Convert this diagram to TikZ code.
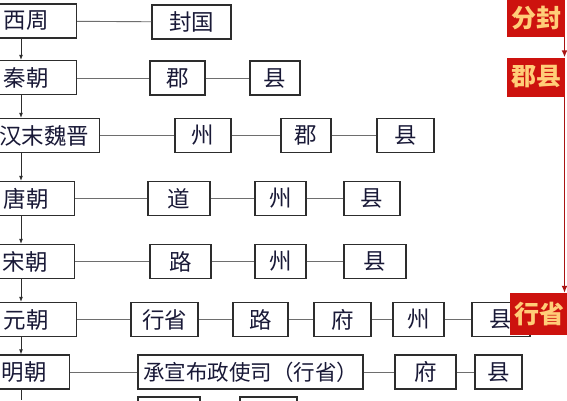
\documentclass[tikz,border=0pt]{standalone}
\usepackage{fontspec}
\setmainfont{Noto Sans CJK SC}
\usetikzlibrary{arrows.meta}
\definecolor{ink}{RGB}{25,25,55}
\definecolor{boxline}{RGB}{45,45,45}
\definecolor{linkgray}{RGB}{110,110,110}
\definecolor{redbox}{RGB}{205,18,14}
\definecolor{redline}{RGB}{170,20,20}
\definecolor{goldtext}{RGB}{255,205,120}
\tikzset{
  era/.style={draw=boxline,line width=1.3pt,anchor=east,minimum height=34,inner sep=0pt,
    text=ink,font=\fontsize{22.5}{24}\selectfont},
  unit/.style={draw=boxline,line width=1.3pt,fill=white,minimum height=34,inner sep=0pt,
    text=ink,font=\fontsize{22.5}{24}\selectfont},
  link/.style={draw=linkgray,line width=0.9pt},
  down/.style={draw=boxline,line width=0.9pt,-{Latex[length=5pt,width=4pt]}},
  tag/.style={fill=redbox,anchor=west,inner xsep=4pt,inner ysep=0pt,text=goldtext,
    font=\fontsize{25}{27}\selectfont\bfseries},
  redarrow/.style={draw=redline,line width=1.8pt,-{Latex[length=7pt,width=6pt]}}
}
\begin{document}
\begin{tikzpicture}[x=1pt,y=-1pt]
\useasboundingbox (0,0) rectangle (567,400);
\clip (0,0) rectangle (567,400);
\fill[white] (0,0) rectangle (567,400);
\coordinate (spine) at (21,0);
% dynasties
\node[era,minimum width=100] (xizhou) at (77,21) {西周};
\node[era,minimum width=100] (qin) at (77,77.5) {秦朝};
\node[era,minimum width=110] (han) at (100,135.5) {汉末魏晋};
\node[era,minimum width=96] (tang) at (75,198.5) {唐朝};
\node[era,minimum width=98] (song) at (75,261.5) {宋朝};
\node[era,minimum width=100] (yuan) at (77,319.5) {元朝};
\node[era,minimum width=90] (ming) at (70,372) {明朝};
\coordinate (bottom) at (21,400);
\foreach \a/\b in {xizhou/qin,qin/han,han/tang,tang/song,song/yuan,yuan/ming}
  \draw[down] (\a.south -| spine) -- (\b.north -| spine);
\draw[boxline,line width=0.9pt] (ming.south -| spine) -- (bottom);
% row 1
\node[unit,minimum width=79] (fengguo) at (191.5,22) {封国};
\draw[link] (xizhou) -- (fengguo);
% row 2
\node[unit,minimum width=55] (qinjun) at (177.5,78) {郡};
\node[unit,minimum width=50] (qinxian) at (275,78) {县};
\draw[link] (qin.east |- qinjun) -- (qinjun) -- (qinxian);
% row 3
\node[unit,minimum width=56] (hanzhou) at (203,135.5) {州};
\node[unit,minimum width=50] (hanjun) at (306,135.5) {郡};
\node[unit,minimum width=57] (hanxian) at (405.5,135.5) {县};
\draw[link] (han) -- (hanzhou) -- (hanjun) -- (hanxian);
% row 4
\node[unit,minimum width=62] (tangdao) at (179,198.5) {道};
\node[unit,minimum width=51] (tangzhou) at (280.5,198.5) {州};
\node[unit,minimum width=56] (tangxian) at (372,198.5) {县};
\draw[link] (tang) -- (tangdao) -- (tangzhou) -- (tangxian);
% row 5
\node[unit,minimum width=61] (songlu) at (180.5,261.5) {路};
\node[unit,minimum width=51] (songzhou) at (280.5,261.5) {州};
\node[unit,minimum width=62] (songxian) at (375,261.5) {县};
\draw[link] (song) -- (songlu) -- (songzhou) -- (songxian);
% row 6
\node[unit,minimum width=67] (yuansheng) at (164.5,319.5) {行省};
\node[unit,minimum width=55] (yuanlu) at (260.5,319.5) {路};
\node[unit,minimum width=57] (yuanfu) at (342.5,319.5) {府};
\node[unit,minimum width=51] (yuanzhou) at (418.5,319.5) {州};
\node[unit,minimum width=58] (yuanxian) at (501,319.5) {县};
\draw[link] (yuan) -- (yuansheng) -- (yuanlu) -- (yuanfu) -- (yuanzhou) -- (yuanxian);
% row 7
\node[unit,minimum width=225,font=\fontsize{21.5}{23}\selectfont] (buzheng) at (250.5,372) {承宣布政使司（行省）};
\node[unit,minimum width=61] (mingfu) at (425.5,372) {府};
\node[unit,minimum width=47] (mingxian) at (498.5,372) {县};
\draw[link] (ming) -- (buzheng) -- (mingfu) -- (mingxian);
% row 8, cut off
\node[unit,minimum width=62] (nextA) at (169,414) {};
\node[unit,minimum width=57] (nextB) at (268.5,414) {};
% red tags
\node[tag,minimum height=37] (fenfeng) at (507,18.5) {分封};
\node[tag,minimum height=39] (junxian) at (507,77) {郡县};
\node[tag,minimum height=42] (xingsheng) at (510,314) {行省};
\coordinate (redx) at (564.5,0);
\draw[redarrow] (fenfeng.south -| redx) -- (junxian.north -| redx);
\draw[redarrow] (junxian.south -| redx) -- (xingsheng.north -| redx);
\end{tikzpicture}
\end{document}
